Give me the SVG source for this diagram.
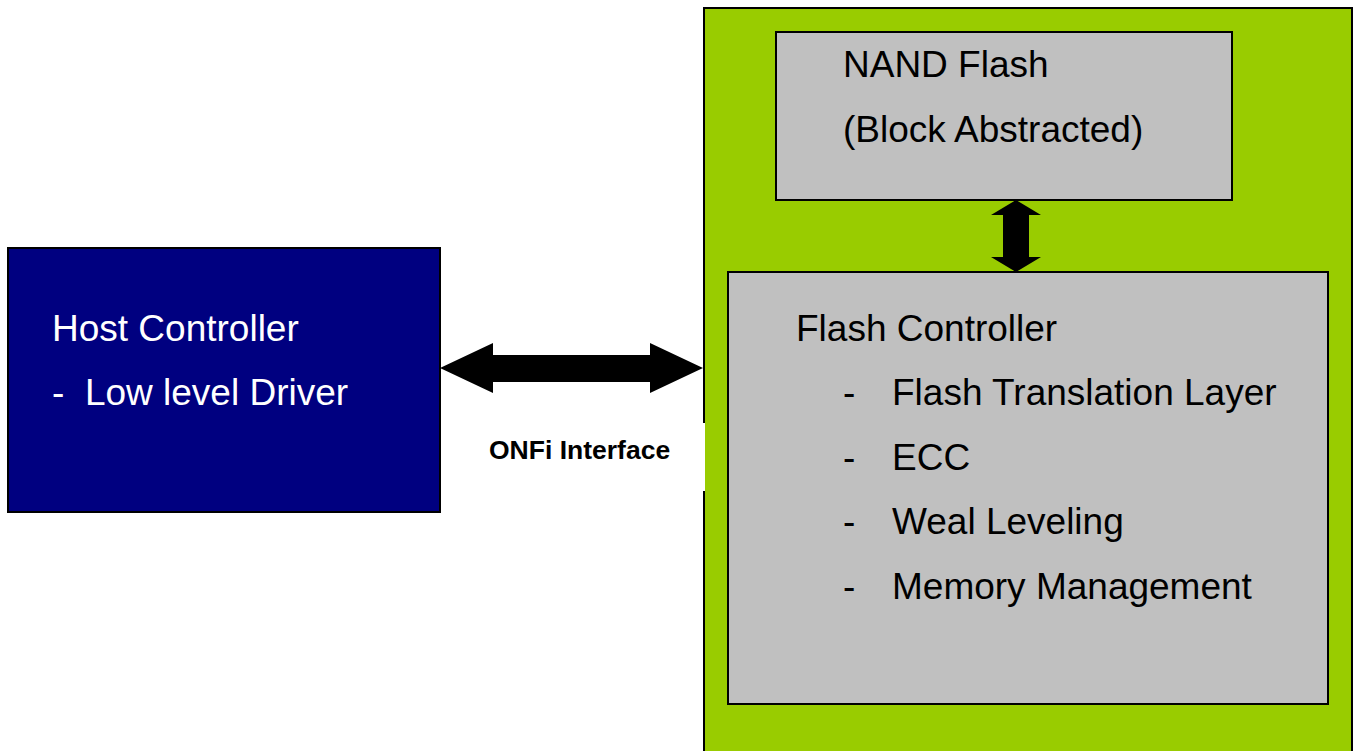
<svg xmlns="http://www.w3.org/2000/svg" width="1354" height="751" viewBox="0 0 1354 751">
<style>
.box{stroke:#000;stroke-width:2}
.t{font-family:"Liberation Sans",Arial,sans-serif;font-size:37px}
.w{fill:#fff}
.k{fill:#000}
.lbl{font-family:"Liberation Sans",Arial,sans-serif;font-size:26.5px;font-weight:bold;fill:#000}
</style>
<rect width="1354" height="751" fill="#fff"/>
<g id="host">
<rect class="box" x="8" y="248" width="432" height="264" fill="#000080"/>
<text class="t w" x="52" y="341">Host Controller</text>
<text class="t w" x="52" y="405" xml:space="preserve">-  Low level Driver</text>
</g>
<g id="device">
<rect class="box" x="704" y="8" width="648" height="750" fill="#99cc00"/>
</g>
<g id="nand">
<rect class="box" x="776" y="32" width="456" height="168" fill="#c0c0c0"/>
<text class="t k" x="843" y="77">NAND Flash</text>
<text class="t k" x="843" y="142">(Block Abstracted)</text>
</g>
<g id="flashctrl">
<rect class="box" x="728" y="272" width="600" height="432" fill="#c0c0c0"/>
<text class="t k" x="796" y="341">Flash Controller</text>
<text class="t k" x="843" y="405">-</text>
<text class="t k" x="892" y="405">Flash Translation Layer</text>
<text class="t k" x="843" y="470">-</text>
<text class="t k" x="892" y="470">ECC</text>
<text class="t k" x="843" y="534">-</text>
<text class="t k" x="892" y="534">Weal Leveling</text>
<text class="t k" x="843" y="599">-</text>
<text class="t k" x="892" y="599">Memory Management</text>
</g>
<g id="onfi-label">
<rect x="441" y="423" width="264" height="68" fill="#fff"/>
<text class="lbl" x="489" y="459">ONFi Interface</text>
</g>
<g id="connectors">
<polygon points="440,368 493,343 493,355 650,355 650,343 703,368 650,393 650,382 493,382 493,393" fill="#000"/>
<polygon points="1016,200 1041,215 1029,215 1029,257 1041,257 1016,272 991,257 1003,257 1003,215 991,215" fill="#000"/>
</g>
</svg>
